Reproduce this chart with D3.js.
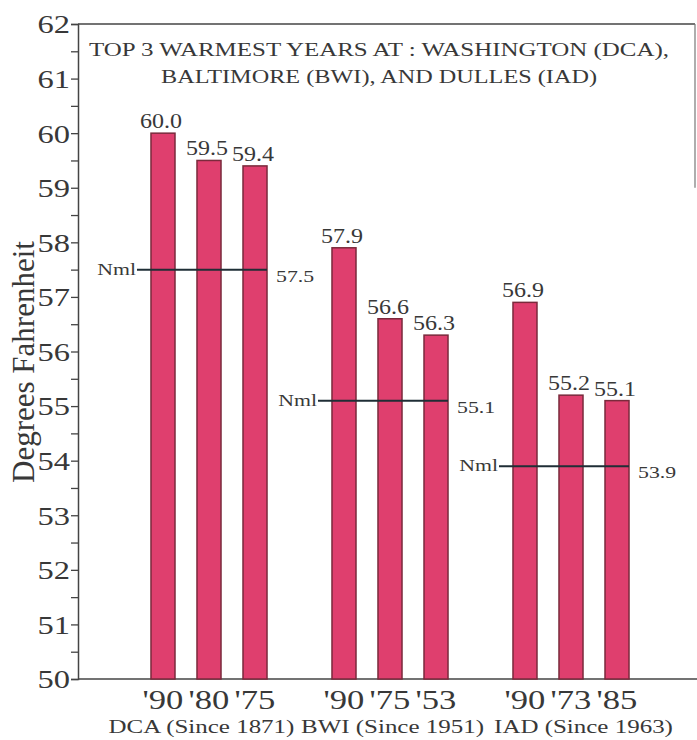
<!DOCTYPE html>
<html>
<head>
<meta charset="utf-8">
<script src="https://cdn.jsdelivr.net/npm/d3@7"></script>
<style>
  body { margin: 0; background: #fff; }
  text { font-family: "Liberation Serif", "Times New Roman", serif; fill: #383838; }
</style>
</head>
<body>
<div id="container"></div>
<script>
// stations and their top 3 warmest years
const stations = ["DCA (Since 1871)", "BWI (Since 1951)", "IAD (Since 1963)"];
const years = [["'90", "'80", "'75"], ["'90", "'75", "'53"], ["'90", "'73", "'85"]];
const temps = [[60.0, 59.5, 59.4], [57.9, 56.6, 56.3], [56.9, 55.2, 55.1]];
const normals = [57.5, 55.1, 53.9];
const yTicks = [50, 51, 52, 53, 54, 55, 56, 57, 58, 59, 60, 61, 62];
const titleLines = ["TOP 3 WARMEST YEARS AT : WASHINGTON (DCA),", "BALTIMORE (BWI), AND DULLES (IAD)"];

const width = 697, height = 740;
const mLeft = 78, mTop = 24, mBottom = 679, mRight = 695;

// the scanned original is a bit wider than normal type, so widen text a little
function stretch(sel, k = 1.28) {
    sel.each(function() {
        const w = this.getComputedTextLength();
        d3.select(this)
            .attr("textLength", w * k)
            .attr("lengthAdjust", "spacingAndGlyphs");
    });
}

const svg = d3.select("#container")
    .append("svg")
    .attr("width", width)
    .attr("height", height);

const y = d3.scaleLinear().domain([50, 62]).range([mBottom, mTop]);

// outer scale for stations, inner for the three years
const xGroup = d3.scaleBand()
    .domain(stations)
    .range([118.5, 661.5]);

const xBar = d3.scaleBand()
    .domain([0, 1, 2])
    .range([0, xGroup.bandwidth()])
    .paddingInner(0.478)
    .paddingOuter(0.706);

// station names sit on one line under the chart
const xLabel = d3.scaleBand()
    .domain(stations)
    .range([106, 679]);

// frame: top line and partial right line
svg.append("line")
    .attr("x1", mLeft).attr("x2", mRight)
    .attr("y1", y(62)).attr("y2", y(62))
    .attr("stroke", "#444").attr("stroke-width", 1.5);
svg.append("line")
    .attr("x1", mRight).attr("x2", mRight)
    .attr("y1", y(62)).attr("y2", y(59))
    .attr("stroke", "#777").attr("stroke-width", 1.2);

// y axis
const yAxis = d3.axisLeft(y)
    .tickValues(d3.range(50, 62.01, 0.5))
    .tickSize(7)
    .tickFormat(d => yTicks.includes(d) ? d : "");
const gy = svg.append("g")
    .attr("transform", `translate(${mLeft},0)`)
    .call(yAxis);
gy.select(".domain").attr("stroke", "#444").attr("stroke-width", 1.5);
gy.selectAll(".tick line").attr("stroke", "#444").attr("stroke-width", 1.3);
gy.selectAll(".tick text")
    .attr("x", -8)
    .attr("dy", "0.34em")
    .style("font-size", "26px")
    .style("font-family", "Liberation Serif, serif")
    .attr("fill", "#383838")
    .call(stretch, 1.25);

// baseline
svg.append("line")
    .attr("x1", mLeft).attr("x2", width)
    .attr("y1", y(50)).attr("y2", y(50))
    .attr("stroke", "#444").attr("stroke-width", 1.5);

// y axis title
svg.append("text")
    .attr("transform", `translate(34,362) rotate(-90)`)
    .attr("text-anchor", "middle")
    .style("font-size", "31px")
    .text("Degrees Fahrenheit");

// title inside the box
svg.selectAll(".title")
    .data(titleLines)
    .enter()
    .append("text")
    .attr("class", "title")
    .attr("x", 379)
    .attr("y", (d, i) => 56 + i * 27)
    .attr("text-anchor", "middle")
    .attr("textLength", (d, i) => i === 0 ? 580 : 436)
    .attr("lengthAdjust", "spacingAndGlyphs")
    .style("font-size", "19px")
    .text(d => d);

// bars
const groups = svg.selectAll(".station")
    .data(stations)
    .enter()
    .append("g")
    .attr("class", "station")
    .attr("transform", d => `translate(${xGroup(d)},0)`);

groups.each(function(s, gi) {
    const g = d3.select(this);
    const vals = temps[gi];

    g.selectAll("rect")
        .data(vals)
        .enter()
        .append("rect")
        .attr("x", (d, i) => xBar(i))
        .attr("y", d => y(d))
        .attr("width", xBar.bandwidth())
        .attr("height", d => y(50) - y(d))
        .attr("fill", "#df3f6e")
        .attr("stroke", "#7a2a3c")
        .attr("stroke-width", 1.5);

    // value labels
    g.selectAll(".val")
        .data(vals)
        .enter()
        .append("text")
        .attr("class", "val")
        .attr("x", (d, i) => xBar(i) + xBar.bandwidth() / 2 - 2)
        .attr("y", d => y(d) - 5)
        .attr("text-anchor", "middle")
        .style("font-size", "20px")
        .text(d => d.toFixed(1))
        .call(stretch, 1.2);

    // year labels
    g.selectAll(".yr")
        .data(years[gi])
        .enter()
        .append("text")
        .attr("class", "yr")
        .attr("x", (d, i) => xBar(i) + xBar.bandwidth() / 2)
        .attr("y", 709)
        .attr("text-anchor", "middle")
        .style("font-size", "27px")
        .text(d => d)
        .call(stretch);

    // normal line
    const nx1 = xBar(0) - 14;
    const nx2 = xBar(2) + xBar.bandwidth();
    g.append("line")
        .attr("x1", nx1).attr("x2", nx2)
        .attr("y1", y(normals[gi])).attr("y2", y(normals[gi]))
        .attr("stroke", "#1f2e36")
        .attr("stroke-width", 2);
    g.append("text")
        .attr("x", nx1 - 1)
        .attr("y", y(normals[gi]) + 5)
        .attr("text-anchor", "end")
        .style("font-size", "17px")
        .text("Nml")
        .call(stretch);
    g.append("text")
        .attr("x", nx2 + 9)
        .attr("y", y(normals[gi]) + 12)
        .attr("text-anchor", "start")
        .style("font-size", "17px")
        .text(normals[gi].toFixed(1))
        .call(stretch);
});

// station labels
svg.selectAll(".stn")
    .data(stations)
    .enter()
    .append("text")
    .attr("class", "stn")
    .attr("x", d => xLabel(d) + xLabel.bandwidth() / 2)
    .attr("y", 733)
    .attr("text-anchor", "middle")
    .style("font-size", "19.5px")
    .text(d => d)
    .call(stretch);
</script>
</body>
</html>
